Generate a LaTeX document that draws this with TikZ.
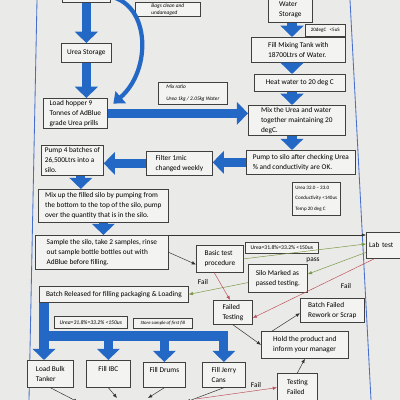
\documentclass[tikz,border=0pt]{standalone}
\usepackage{fontspec}
\setmainfont{Carlito}
\usepackage{xcolor}
\usepackage{tikz}
\usetikzlibrary{arrows.meta}
\usetikzlibrary{positioning}
\definecolor{paper}{RGB}{234,234,232}
\definecolor{boxfill}{RGB}{243,243,241}
\definecolor{flowblue}{RGB}{36,104,198}
\definecolor{passgreen}{RGB}{122,152,70}
\definecolor{failred}{RGB}{190,82,94}
\definecolor{pageblue}{RGB}{70,110,205}
\tikzset{
    stepbox/.style = {rectangle, draw=black!75, fill=boxfill, line width=0.5pt, anchor=north west, align=left, inner xsep=2pt, inner ysep=1pt, font=\fontsize{5.2}{7.1}\selectfont},
    notebox/.style = {rectangle, draw=black!75, fill=boxfill, line width=0.4pt, anchor=north west, align=left, inner xsep=2pt, inner ysep=0.5pt, font=\fontsize{3.8}{4.7}\selectfont\itshape},
    specbox/.style = {notebox, font=\fontsize{3.6}{7.8}\selectfont},
}

\begin{document}
\begin{tikzpicture}[
	x=0.025cm, y=-0.025cm,
	thick,
	flowarrow/.style = {draw=flowblue, line width=6.5pt, -{Triangle[length=8pt,width=16pt]}},
	curvearrow/.style = {draw=flowblue, line width=3pt, -{Triangle[length=7pt,width=11pt]}},
	edgek/.style = {draw=black!80, line width=0.35pt, -{Latex[length=3pt,width=2.5pt]}},
	edgep/.style = {draw=passgreen, line width=0.35pt, -{Latex[length=3pt,width=2.5pt]}},
	edgef/.style = {draw=failred, line width=0.35pt, -{Latex[length=3pt,width=2.5pt]}},
	lbl/.style = {font=\fontsize{5.2}{6}\selectfont, inner sep=0pt},
]
\clip (0,0) rectangle (400,400);
\fill[paper] (0,0) rectangle (400,400);
\draw[pageblue, line width=0.6pt] (37,0) -- (29,400);
\draw[pageblue, line width=0.6pt] (350,0) -- (371,400);
% urea side
\node[stepbox, anchor=south west, minimum width=1.2cm, minimum height=0.3cm] at (62,3) (area) {in Area};
\node[notebox, anchor=south west, minimum width=1.625cm, minimum height=0.35cm] at (135,17) (bags) {Bags clean and\\undamaged};
\node[stepbox, minimum width=1.25cm, minimum height=0.475cm] at (61,43) (ureast) {Urea Storage};
\node[notebox, minimum width=1.725cm, minimum height=0.55cm, font=\fontsize{3.8}{8.4}\selectfont\itshape] at (158,82) (ratio) {Mix ratio\\Urea 1kg / 2.05kg Water};
\node[stepbox, minimum width=1.6cm, minimum height=0.75cm] at (43,98) (hopper) {Load hopper 9\\Tonnes of AdBlue\\grade Urea prills};
% water side
\node[stepbox, minimum width=1.1cm, minimum height=0.625cm] at (268,-3) (water) {Water\\Storage};
\node[specbox, minimum width=1.0cm, minimum height=0.3cm] at (305,24) (wspec) {20degC \ \ <5uS};
\node[stepbox, minimum width=2.35cm, minimum height=0.625cm] at (251,37) (fill) {Fill Mixing Tank with\\18700Ltrs of Water.};
\node[stepbox, minimum width=2.275cm, minimum height=0.425cm] at (254,74) (heat) {Heat water to 20 deg C};
\node[stepbox, minimum width=2.425cm, minimum height=0.75cm] at (248,105) (mix) {Mix the Urea and water\\together maintaining 20\\degC.};
\node[stepbox, minimum width=2.725cm, minimum height=0.6cm] at (246,150) (pumpsilo) {Pump to silo after checking Urea\\\% and conductivity are OK.};
\node[specbox, minimum width=1.2cm, minimum height=0.825cm] at (292,182) (sspec) {Urea 32.0 -- 33.0\\Conductivity <140us\\Temp 20 deg C};
% silo
\node[stepbox, minimum width=1.65cm, minimum height=0.6cm] at (146,151) (filter) {Filter 1mic\\changed weekly};
\node[stepbox, minimum width=1.55cm, minimum height=0.75cm] at (41,145) (batches) {Pump 4 batches of\\26,500Ltrs into a\\silo.};
\node[stepbox, minimum width=3.25cm, minimum height=0.825cm] at (38,189) (mixup) {Mix up the filled silo by pumping from\\the bottom to the top of the silo, pump\\over the quantity that is in the silo.};
\node[stepbox, minimum width=3.325cm, minimum height=0.85cm] at (35,235) (sample) {Sample the silo, take 2 samples, rinse\\out sample bottle bottles out with\\AdBlue before filling.};
% testing
\node[stepbox, minimum width=1.175cm, minimum height=0.675cm] at (196,245) (basic) {Basic test\\procedure};
\node[specbox, minimum width=1.825cm, minimum height=0.275cm, font=\fontsize{4}{5}\selectfont] at (245,242) (uspec) {Urea=31.8\%=33.2\% <150us};
\node[stepbox, text width=1.2cm, minimum height=0.65cm] at (366,232) (lab) {Lab test};
\node[stepbox, minimum width=1.475cm, minimum height=0.7cm] at (248,264) (silo) {Silo Marked as\\passed testing.};
\node[stepbox, minimum width=0.975cm, minimum height=0.6cm] at (213,300) (failed) {Failed\\Testing};
\node[stepbox, minimum width=1.6cm, minimum height=0.6cm] at (300,298) (bfail) {Batch Failed\\Rework or Scrap};
\node[stepbox, minimum width=2.175cm, minimum height=0.675cm] at (261,331) (hold) {Hold the product and\\inform your manager};
\node[stepbox, minimum width=1.0cm, minimum height=0.925cm] at (277,373) (tfail) {Testing\\Failed\\ \mbox{}};
% release
\node[stepbox, minimum width=3.725cm, minimum height=0.4cm] at (39,286) (released) {Batch Released for filling packaging \& Loading};
\node[notebox, minimum width=1.825cm, minimum height=0.3cm, font=\fontsize{4}{5}\selectfont\itshape] at (54,316) (rspec) {Urea=31.8\%=33.2\% <150us};
\node[notebox, minimum width=1.475cm, minimum height=0.25cm, font=\fontsize{3.4}{4}\selectfont\itshape] at (133,318) (store) {Store sample of first fill};
\node[stepbox, minimum width=1.15cm, minimum height=0.675cm] at (27,360) (tanker) {Load Bulk\\Tanker};
\node[stepbox, minimum width=1.1cm, minimum height=0.675cm] at (86,360) (ibc) {Fill IBC\\ \mbox{}};
\node[stepbox, minimum width=1.05cm, minimum height=0.625cm] at (143,362) (drums) {Fill Drums\\ \mbox{}};
\node[stepbox, minimum width=1.075cm, minimum height=0.625cm] at (202,362) (jerry) {Fill Jerry\\Cans};
%
\coordinate (rcol) at (292,0);
\coordinate (split) at (44,336);
\coordinate (tankerout) at (78,402);
\coordinate (ibcout) at (117,398);
\coordinate (drumsout) at (148,398);
\coordinate (jerryout) at (186,402);
\coordinate (failin) at (196,399);
%
\draw[flowarrow] (area.south) -- (area.south |- ureast.north);
\draw[flowarrow] (ureast.south) -- (ureast.south |- hopper.north);
\draw[curvearrow] (area.east) .. controls (150,5) and (152,70) .. ([xshift=4pt,yshift=-4pt]hopper.north east);
\draw[flowarrow] (hopper.east) -- (hopper.east -| mix.west);
%
\draw[flowarrow] (water.south -| rcol) -- (fill.north -| rcol);
\draw[flowarrow] (fill.south -| rcol) -- (heat.north -| rcol);
\draw[flowarrow] (heat.south -| rcol) -- (mix.north -| rcol);
\draw[flowarrow] (mix.south -| rcol) -- (pumpsilo.north -| rcol);
%
\draw[flowarrow] (pumpsilo.west) -- (pumpsilo.west -| filter.east);
\draw[flowarrow] (filter.west) -- (filter.west -| batches.east);
\draw[flowarrow] ([xshift=6pt]batches.south) -- ([xshift=6pt]batches.south |- mixup.north);
\draw[flowarrow] (mixup.south) -- (mixup.south |- sample.north);
%
\draw[edgek] (sample.north east) -- (sample.north east -| lab.west);
\draw[edgek] (sample.east) -- ([yshift=-4pt]basic.west);
\draw[edgep] (basic.east) -- ([yshift=1pt]lab.west);
\draw[edgep] ([yshift=-5pt]lab.west) -- ([yshift=3pt]silo.east);
\draw[edgep] ([yshift=-3pt]silo.west) -- (released.east);
\draw[edgef] ([xshift=-4pt]basic.south) -- ([xshift=-2pt]failed.north);
\draw[edgef] ([xshift=6pt]lab.south west) -- ([yshift=-4pt]failed.east);
\draw[edgek] (failed.south) -- (hold.west);
\draw[edgek] ([xshift=8pt]hold.north west) -- ([yshift=-2pt]bfail.west);
\draw[edgek] (tfail.north) -- (hold.south);
\draw[edgef] (failin) -- ([yshift=3pt]tfail.west);
%
\node[lbl] at (313,260) (passlbl) {pass};
\node[lbl] at (203,282) (faillbl) {Fail};
\node[lbl] at (346,286) (labfail) {Fail};
\node[lbl] at (256,385) (tfaillbl) {Fail};
%
\draw[flowarrow] (released.south -| split) -- (tanker.north -| split);
\draw[flowarrow] (split) -| (ibc.north);
\draw[flowarrow] (split) -| (drums.north);
\draw[flowarrow] (split) -| (jerry.north);
%
\draw[edgek] (tanker.south) -- (tankerout);
\draw[edgek] (ibc.south) -- (ibcout);
\draw[edgek] (drums.south) -- (drumsout);
\draw[edgek] (jerry.south) -- (jerryout);
\end{tikzpicture}
\end{document}
